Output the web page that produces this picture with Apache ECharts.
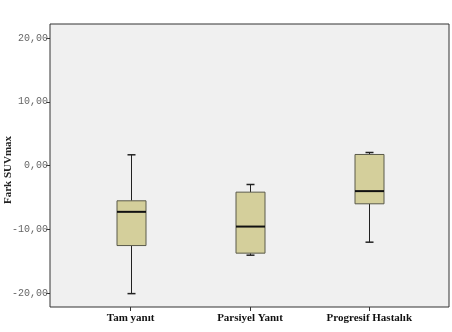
<!DOCTYPE html>
<html><head><meta charset="utf-8">
<script src="https://cdn.jsdelivr.net/npm/echarts@6/dist/echarts.min.js"></script>
<style>html,body{margin:0;padding:0;background:#fff}#c{width:452px;height:332px}</style>
</head><body><div id="c"></div>
<script>
const categories = ['Tam yanıt', 'Parsiyel Yanıt', 'Progresif Hastalık'];
// [lower whisker, Q1, median, Q3, upper whisker]
const boxTam = [-20.1, -12.56, -7.27, -5.54, 1.68];
const boxParsiyel = [-14.07, -13.75, -9.58, -4.18, -2.98];
const boxProgresif = [-12.03, -6.01, -4.02, 1.73, 2.04];
const yTicks = [-20, -10, 0, 10, 20];
const catPositions = [0, 1, 2];
const yTitle = 'Fark SUVmax';

const boxes = [boxTam, boxParsiyel, boxProgresif];
const chart = echarts.init(document.getElementById('c'), null, {renderer: 'canvas'});

function renderItem(params, api) {
  const x = api.value(0);
  const lo = api.coord([x, api.value(1)]);
  const q1 = api.coord([x, api.value(2)]);
  const md = api.coord([x, api.value(3)]);
  const q3 = api.coord([x, api.value(4)]);
  const hi = api.coord([x, api.value(5)]);
  const bw = 29, cw = 8;
  const cx = Math.round(lo[0]) + 0.5;
  const line = {stroke: '#222', lineWidth: 1};
  return {
    type: 'group',
    children: [
      {type: 'line', shape: {x1: cx, y1: hi[1], x2: cx, y2: q3[1]}, style: line},
      {type: 'line', shape: {x1: cx, y1: q1[1], x2: cx, y2: lo[1]}, style: line},
      {type: 'line', shape: {x1: cx - cw / 2, y1: hi[1], x2: cx + cw / 2, y2: hi[1]}, style: {stroke: '#222', lineWidth: 1.5}},
      {type: 'line', shape: {x1: cx - cw / 2, y1: lo[1], x2: cx + cw / 2, y2: lo[1]}, style: {stroke: '#222', lineWidth: 1.5}},
      {type: 'rect', shape: {x: cx - bw / 2, y: q3[1], width: bw, height: q1[1] - q3[1]},
        style: {fill: '#d4cf9b', stroke: '#5a5a4a', lineWidth: 1}},
      {type: 'line', shape: {x1: cx - bw / 2, y1: md[1], x2: cx + bw / 2, y2: md[1]}, style: {stroke: '#111', lineWidth: 2}}
    ]
  };
}

chart.setOption({
  animation: false,
  grid: {left: 50, right: 3, top: 24, bottom: 25, show: true, backgroundColor: '#f0f0f0',
    borderColor: '#333', borderWidth: 1, outerBoundsMode: 'none', containLabel: false},
  graphic: [{
    type: 'text', x: 8, y: 170, rotation: Math.PI / 2,
    style: {text: yTitle, fontFamily: 'Liberation Serif', fontWeight: 'bold', fontSize: 11,
      fill: '#222', align: 'center', verticalAlign: 'middle'}
  }],
  xAxis: {type: 'value', min: -0.676, max: 2.668,
    axisLine: {show: false, onZero: false},
    splitLine: {show: false},
    axisTick: {show: true, inside: false, length: 4, customValues: catPositions, lineStyle: {color: '#333'}},
    axisLabel: {margin: 6, customValues: catPositions, fontFamily: 'Liberation Serif', fontWeight: 'bold', fontSize: 11, color: '#111',
      formatter: v => categories[Math.round(v)]}},
  yAxis: {type: 'value', min: -22.2, max: 22.2,
    axisLine: {show: false, onZero: false},
    splitLine: {show: false},
    axisTick: {show: true, inside: false, length: 4, customValues: yTicks, lineStyle: {color: '#333'}},
    axisLabel: {margin: 2, customValues: yTicks, fontFamily: 'Liberation Mono', fontSize: 10, color: '#666',
      formatter: v => v.toFixed(2).replace('.', ',')}},
  series: [{
    type: 'custom', z: 5,
    renderItem: renderItem,
    encode: {x: 0, y: [1, 2, 3, 4, 5]},
    data: boxes.map((b, i) => [i].concat(b))
  }]
});
</script></body></html>
